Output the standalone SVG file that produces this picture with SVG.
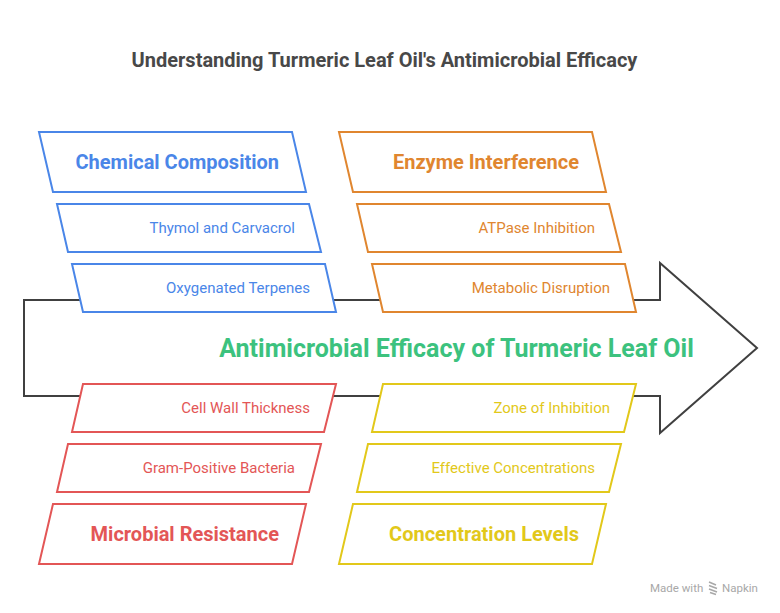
<svg xmlns="http://www.w3.org/2000/svg" width="780" height="613" viewBox="0 0 780 613">
<style>
text{font-family:Roboto,"Liberation Sans",sans-serif}
.box{fill:#fff;stroke-width:2;stroke-linejoin:miter}
.hd{font-size:20px;font-weight:700;text-anchor:end}
.it{font-size:15px;text-anchor:end}
.b{stroke:#4a86e8}.bt{fill:#4a86e8}
.o{stroke:#e0862f}.ot{fill:#e0862f}
.r{stroke:#e35656}.rt{fill:#e35656}
.y{stroke:#e2c81a}.yt{fill:#e2c81a}
</style>
<rect width="780" height="613" fill="#fff"/>
<text x="384.5" y="67" text-anchor="middle" font-size="20" font-weight="700" fill="#484848">Understanding Turmeric Leaf Oil's Antimicrobial Efficacy</text>
<g id="connectors">
<path d="M660,300 L24,300 L24,396 L660,396 L660,433 L757,348 L660,263 Z" fill="none" stroke="#404040" stroke-width="2" stroke-linejoin="miter"/>
</g>
<g id="center"><text x="456.5" y="357" text-anchor="middle" font-size="25" font-weight="700" fill="#3cc27e">Antimicrobial Efficacy of Turmeric Leaf Oil</text></g>
<g id="chemical-composition"><polygon class="box b" points="39,132 292,132 306,192 53,192"/><text class="hd bt" x="279" y="169">Chemical Composition</text></g>
<g id="thymol"><polygon class="box b" points="57,204 309,204 321,252 68,252"/><text class="it bt" x="295" y="233">Thymol and Carvacrol</text></g>
<g id="oxygenated"><polygon class="box b" points="72,264 325,264 336,312 83,312"/><text class="it bt" x="310" y="293">Oxygenated Terpenes</text></g>
<g id="enzyme-interference"><polygon class="box o" points="339,132 592,132 606,192 353,192"/><text class="hd ot" x="579" y="169">Enzyme Interference</text></g>
<g id="atpase"><polygon class="box o" points="357,204 609,204 621,252 368,252"/><text class="it ot" x="595" y="233">ATPase Inhibition</text></g>
<g id="metabolic"><polygon class="box o" points="372,264 625,264 636,312 383,312"/><text class="it ot" x="610" y="293">Metabolic Disruption</text></g>
<g id="cell-wall"><polygon class="box r" points="83,384 336,384 324,432 72,432"/><text class="it rt" x="310" y="413">Cell Wall Thickness</text></g>
<g id="gram-positive"><polygon class="box r" points="68,444 321,444 309,492 57,492"/><text class="it rt" x="295" y="473">Gram-Positive Bacteria</text></g>
<g id="microbial-resistance"><polygon class="box r" points="53,504 306,504 292,564 39,564"/><text class="hd rt" x="279" y="541">Microbial Resistance</text></g>
<g id="zone"><polygon class="box y" points="383,384 636,384 624,432 372,432"/><text class="it yt" x="610" y="413">Zone of Inhibition</text></g>
<g id="effective"><polygon class="box y" points="368,444 621,444 609,492 357,492"/><text class="it yt" x="595" y="473">Effective Concentrations</text></g>
<g id="concentration-levels"><polygon class="box y" points="353,504 606,504 592,564 339,564"/><text class="hd yt" x="579" y="541">Concentration Levels</text></g>
<g id="footer" fill="#a8a8a8">
<text x="650" y="592" font-size="11.5" fill="#a8a8a8">Made with</text>
<path d="M709,582 l7,3 M709,585.5 l8,3 M709,589 l8,3 M710,592.5 l6,2" stroke="#a8a8a8" stroke-width="1.6" fill="none"/>
<text x="722" y="592" font-size="11.5" fill="#a8a8a8">Napkin</text>
</g>
</svg>
